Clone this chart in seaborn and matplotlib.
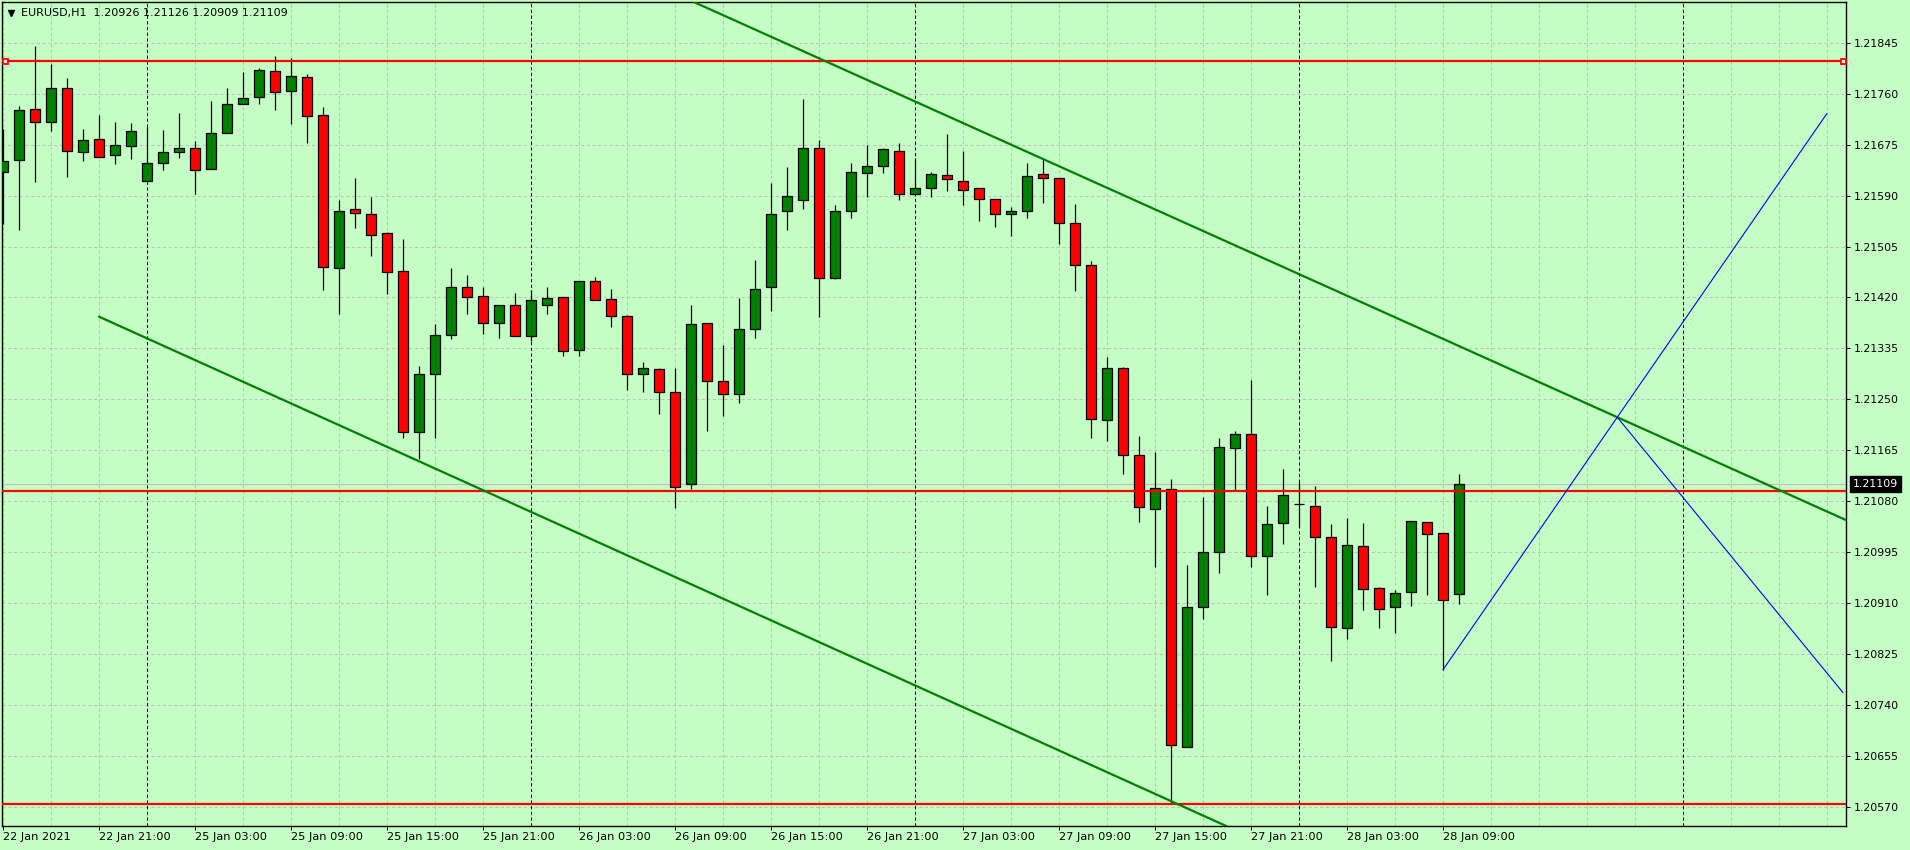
import numpy as np
import pandas as pd
import matplotlib
matplotlib.use("Agg")
import matplotlib.pyplot as plt
import matplotlib.transforms as mtransforms
import seaborn as sns

symbol_title = "EURUSD,H1  1.20926 1.21126 1.20909 1.21109"

# hourly bars: Fri 22 Jan 15:00 .. 23:00, then Mon 25 Jan 00:00 .. Thu 28 Jan 10:00
bar_times = pd.date_range("2021-01-22 15:00", "2021-01-22 23:00", freq="h").append(
    pd.date_range("2021-01-25 00:00", "2021-01-28 10:00", freq="h"))

opens = [
    1.21630, 1.21649, 1.21734, 1.21712, 1.21769, 1.21663, 1.21684, 1.21657, 1.21673,
    1.21615, 1.21644, 1.21663, 1.21670, 1.21635, 1.21694, 1.21742, 1.21754, 1.21797, 1.21764,
    1.21787, 1.21724, 1.21469, 1.21567, 1.21559, 1.21527, 1.21465, 1.21196, 1.21292, 1.21357,
    1.21437, 1.21422, 1.21378, 1.21407,
    1.21356, 1.21407, 1.21420, 1.21333, 1.21447, 1.21417, 1.21389, 1.21293, 1.21300, 1.21262,
    1.21109, 1.21377, 1.21280, 1.21259, 1.21367, 1.21437, 1.21565, 1.21582, 1.21669, 1.21453,
    1.21564, 1.21627, 1.21639, 1.21664,
    1.21592, 1.21602, 1.21624, 1.21615, 1.21602, 1.21584, 1.21559, 1.21564, 1.21626, 1.21620,
    1.21544, 1.21474, 1.21215, 1.21302, 1.21157, 1.21068, 1.21100, 1.20671, 1.20904, 1.20996,
    1.21169, 1.21193, 1.20989, 1.21044,
    1.21076, 1.21072, 1.21020, 1.20868, 1.21005, 1.20935, 1.20903, 1.20928, 1.21045, 1.21027,
    1.20926,
]
highs = [
    1.21701, 1.21739, 1.21840, 1.21810, 1.21786, 1.21701, 1.21724, 1.21713, 1.21711,
    1.21704, 1.21699, 1.21728, 1.21681, 1.21748, 1.21769, 1.21796, 1.21803, 1.21823, 1.21820,
    1.21793, 1.21738, 1.21583, 1.21619, 1.21588, 1.21529, 1.21518, 1.21306, 1.21376, 1.21469,
    1.21458, 1.21438, 1.21407, 1.21428,
    1.21433, 1.21438, 1.21420, 1.21447, 1.21454, 1.21434, 1.21390, 1.21312, 1.21302, 1.21302,
    1.21407, 1.21377, 1.21341, 1.21419, 1.21483, 1.21611, 1.21638, 1.21751, 1.21682, 1.21574,
    1.21644, 1.21674, 1.21669, 1.21678,
    1.21652, 1.21629, 1.21693, 1.21664, 1.21602, 1.21585, 1.21571, 1.21644, 1.21651, 1.21620,
    1.21576, 1.21481, 1.21321, 1.21304, 1.21189, 1.21162, 1.21117, 1.20974, 1.21087, 1.21186,
    1.21197, 1.21282, 1.21072, 1.21134,
    1.21113, 1.21106, 1.21042, 1.21052, 1.21044, 1.20937, 1.20932, 1.21047, 1.21045, 1.21027,
    1.21126,
]
lows = [
    1.21543, 1.21533, 1.21612, 1.21698, 1.21621, 1.21647, 1.21655, 1.21643, 1.21651,
    1.21615, 1.21633, 1.21653, 1.21593, 1.21635, 1.21694, 1.21742, 1.21742, 1.21732, 1.21710,
    1.21677, 1.21433, 1.21392, 1.21536, 1.21489, 1.21426, 1.21186, 1.21151, 1.21186, 1.21351,
    1.21392, 1.21359, 1.21353, 1.21356,
    1.21348, 1.21392, 1.21323, 1.21323, 1.21416, 1.21370, 1.21265, 1.21263, 1.21225, 1.21069,
    1.21100, 1.21198, 1.21223, 1.21244, 1.21353, 1.21398, 1.21532, 1.21567, 1.21388, 1.21451,
    1.21553, 1.21588, 1.21628, 1.21583,
    1.21592, 1.21587, 1.21597, 1.21575, 1.21547, 1.21538, 1.21522, 1.21552, 1.21578, 1.21510,
    1.21430, 1.21186, 1.21180, 1.21126, 1.21046, 1.20971, 1.20576, 1.20671, 1.20884, 1.20961,
    1.21098, 1.20971, 1.20923, 1.21009,
    1.21037, 1.20937, 1.20814, 1.20850, 1.20898, 1.20868, 1.20861, 1.20906, 1.20924, 1.20799,
    1.20909,
]
closes = [
    1.21648, 1.21732, 1.21713, 1.21769, 1.21665, 1.21682, 1.21655, 1.21674, 1.21697,
    1.21645, 1.21662, 1.21670, 1.21633, 1.21694, 1.21742, 1.21752, 1.21799, 1.21762, 1.21789,
    1.21722, 1.21471, 1.21564, 1.21561, 1.21525, 1.21462, 1.21196, 1.21292, 1.21357, 1.21437,
    1.21421, 1.21378, 1.21407, 1.21356,
    1.21415, 1.21419, 1.21331, 1.21447, 1.21416, 1.21389, 1.21293, 1.21302, 1.21263, 1.21104,
    1.21375, 1.21280, 1.21259, 1.21367, 1.21434, 1.21559, 1.21589, 1.21669, 1.21453, 1.21565,
    1.21629, 1.21639, 1.21667, 1.21592,
    1.21602, 1.21626, 1.21617, 1.21600, 1.21584, 1.21559, 1.21565, 1.21622, 1.21619, 1.21544,
    1.21474, 1.21217, 1.21302, 1.21157, 1.21071, 1.21103, 1.20673, 1.20903, 1.20995, 1.21170,
    1.21192, 1.20988, 1.21042, 1.21090,
    1.21075, 1.21020, 1.20871, 1.21007, 1.20934, 1.20901, 1.20927, 1.21047, 1.21026, 1.20916,
    1.21109,
]

price_ticks = [1.20570, 1.20655, 1.20740, 1.20825, 1.20910, 1.20995, 1.21080, 1.21165,
               1.21250, 1.21335, 1.21420, 1.21505, 1.21590, 1.21675, 1.21760, 1.21845]

# drawn objects (bar index, price)
level_prices = [1.21815, 1.21098, 1.20575]
bid_price = 1.21109
upper_trend_x = [54, 65]
upper_trend_y = [1.21783, 1.21651]
lower_trend_x = [6, 73]
lower_trend_y = [1.21388, 1.20580]
blue_up_x = [90, 114]
blue_up_y = [1.20799, 1.21727]
blue_down_x = [100.9, 115]
blue_down_y = [1.21220, 1.20761]

BG = "#c5ffc5"
GRID = "#c0c0c0"
BULL = "#008000"
BEAR = "#ff0000"


def main():
    sns.set_theme(style="ticks", rc={"axes.facecolor": BG, "figure.facecolor": BG})
    plt.rcParams["font.family"] = ["DejaVu Sans"]

    fig = plt.figure(figsize=(19.1, 8.5), dpi=100)
    ax = fig.add_axes([2 / 1910, 24 / 850, 1844 / 1910, 824 / 850])

    n = len(opens)
    x = np.arange(n)
    o, h, l, c = (np.array(v) for v in (opens, highs, lows, closes))
    up = c >= o

    # dashed grid: every price label and every 3 bars (also into the shifted area)
    for p in price_ticks:
        ax.axhline(p, color=GRID, lw=0.75, ls=(0, (3, 2.5)), zorder=0)
    for k in range(0, 116, 3):
        ax.axvline(k, color=GRID, lw=0.75, ls=(0, (3, 2.5)), zorder=0)

    # day separators
    day_starts = list(np.where(bar_times.hour == 0)[0])
    day_starts.append(day_starts[-1] + 24)
    for d in day_starts:
        ax.axvline(d, color="black", lw=0.75, ls=(0, (3, 2.5)), zorder=1)

    ax.axhline(bid_price, color="#c0c0c0", lw=0.9, zorder=1)

    # candles
    ax.vlines(x, l, h, color="black", lw=0.9, zorder=2)
    ax.bar(x, np.maximum(np.abs(c - o), 0.000008), bottom=np.minimum(o, c), width=0.62,
           color=np.where(up, BULL, BEAR), edgecolor="black", linewidth=0.9, zorder=3)

    # horizontal levels
    for p in level_prices:
        ax.axhline(p, color="red", lw=1.6, zorder=5)
    ax.plot([0.125, 115.0], [level_prices[0]] * 2, ls="none", marker="s", ms=3.6,
            mfc="white", mec="red", mew=1.3, zorder=6, clip_on=False)

    # channel
    ax.axline((upper_trend_x[0], upper_trend_y[0]), (upper_trend_x[1], upper_trend_y[1]),
              color=BULL, lw=1.6, zorder=5)
    slope = (lower_trend_y[1] - lower_trend_y[0]) / (lower_trend_x[1] - lower_trend_x[0])
    ray_x = [lower_trend_x[0], 130]
    ray_y = [lower_trend_y[0], lower_trend_y[0] + slope * (130 - lower_trend_x[0])]
    sns.lineplot(x=ray_x, y=ray_y, color=BULL, lw=1.6, ax=ax, zorder=5, sort=False)

    # blue lines
    sns.lineplot(x=blue_up_x, y=blue_up_y, color="#0000ff", lw=0.8, ax=ax, zorder=5, sort=False)
    sns.lineplot(x=blue_down_x, y=blue_down_y, color="#0000ff", lw=0.8, ax=ax, zorder=5, sort=False)

    ax.set_xlim(-0.0625, 115.19)
    ax.set_ylim(1.205384, 1.219129)
    ax.set_xlabel("")
    ax.set_ylabel("")

    # price scale on the right
    ax.yaxis.tick_right()
    ax.set_yticks(price_ticks)
    ax.set_yticklabels([f"{p:.5f}" for p in price_ticks])
    ax.tick_params(axis="y", direction="out", length=3, width=0.75, pad=2.5,
                   labelsize=7.9, colors="black")

    # time scale: a label every 6 bars, left aligned at the tick
    tick_idx = list(range(0, n, 6))
    tick_labels = [bar_times[0].strftime("%d %b %Y")] + \
        [bar_times[i].strftime("%d %b %H:%M") for i in tick_idx[1:]]
    ax.set_xticks(tick_idx)
    ax.set_xticklabels(tick_labels)
    for lbl in ax.get_xticklabels():
        lbl.set_horizontalalignment("left")
    ax.tick_params(axis="x", direction="out", length=3, width=0.75, pad=1.5,
                   labelsize=8.2, colors="black")

    for s in ax.spines.values():
        s.set_visible(True)
        s.set_color("black")
        s.set_linewidth(1.0)

    # header and current price marker
    ax.plot([0.0049], [0.9867], marker="v", ms=5, color="black",
            transform=ax.transAxes, clip_on=False, zorder=10)
    ax.text(0.0103, 0.9867, symbol_title, transform=ax.transAxes, fontsize=8,
            va="center", ha="left", color="black", zorder=10)

    trans = mtransforms.blended_transform_factory(ax.transAxes, ax.transData)
    ax.text(1 + 7 / 1844, bid_price, f"{bid_price:.5f}", transform=trans, color="white",
            fontsize=7.9, va="center", ha="left", zorder=10, clip_on=False,
            bbox=dict(boxstyle="square,pad=0.25", fc="black", ec="black"))

    fig.savefig("out.png", dpi=100, facecolor=BG)


if __name__ == "__main__":
    main()
